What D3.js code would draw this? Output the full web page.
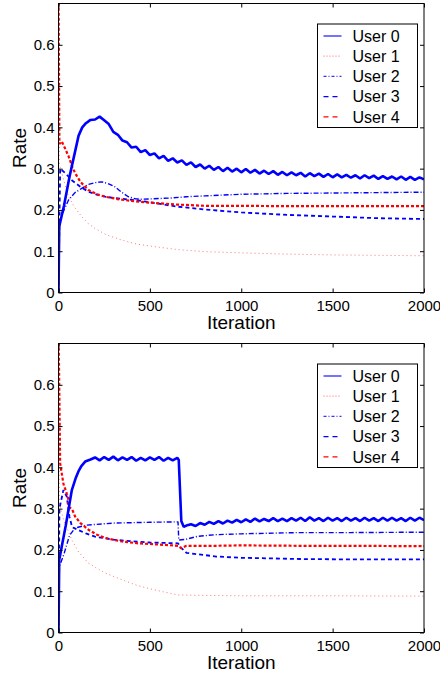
<!DOCTYPE html>
<html>
<head>
<meta charset="utf-8">
<script src="https://cdn.jsdelivr.net/npm/d3@7/dist/d3.min.js"></script>
<style>
  body { margin: 0; background: #fff; }
  svg { display: block; font-family: "Liberation Sans", Arial, Helvetica, sans-serif; }
</style>
</head>
<body>
<div id="chart"></div>
<script>
// ---- data (iteration, rate) ----
var users = ['User 0', 'User 1', 'User 2', 'User 3', 'User 4'];
var xTicks = [0, 500, 1000, 1500, 2000];
var yTicks = [0, 0.1, 0.2, 0.3, 0.4, 0.5, 0.6];

var topUser0 = [[0,0],[4,0.16],[30,0.21],[60,0.28],[90,0.34],[110,0.38],[130,0.40],[150,0.41],[175,0.418],
  [200,0.419],[225,0.426],[250,0.417],[275,0.408],[300,0.389],[325,0.382],[350,0.368],[375,0.364],[400,0.351],
  [425,0.353],[450,0.340],[475,0.345],[500,0.333],[525,0.337],[550,0.325],[575,0.331],[600,0.319],[625,0.325],
  [650,0.315],[675,0.320],[700,0.309],[725,0.315],[750,0.304],[775,0.310],[800,0.300],[825,0.307],[850,0.297],
  [875,0.304],[900,0.294],[925,0.302],[950,0.293],[975,0.300],[1000,0.291],[1025,0.299],[1050,0.290],[1075,0.297],
  [1100,0.288],[1125,0.295],[1150,0.287],[1175,0.294],[1200,0.285],[1225,0.292],[1250,0.284],[1275,0.291],
  [1300,0.284],[1325,0.290],[1350,0.281],[1375,0.289],[1400,0.282],[1425,0.288],[1450,0.280],[1475,0.287],
  [1500,0.279],[1525,0.286],[1550,0.279],[1575,0.285],[1600,0.278],[1625,0.284],[1650,0.276],[1675,0.284],
  [1700,0.277],[1725,0.283],[1750,0.275],[1775,0.282],[1800,0.275],[1825,0.281],[1850,0.274],[1875,0.281],
  [1900,0.273],[1925,0.280],[1950,0.273],[1975,0.279],[2000,0.274]];
var topUser1 = [[0,0.75],[5,0.31],[30,0.27],[55,0.232],[90,0.205],[127,0.184],[160,0.168],[200,0.155],[260,0.14],
  [346,0.127],[430,0.117],[527,0.111],[650,0.104],[800,0.099],[1000,0.096],[1250,0.093],[1500,0.091],[1750,0.09],[2000,0.089]];
var topUser2 = [[0,0],[4,0.168],[30,0.2],[55,0.224],[90,0.242],[127,0.252],[164,0.262],[200,0.266],[236,0.268],
  [270,0.264],[309,0.256],[345,0.243],[382,0.232],[420,0.227],[455,0.226],[520,0.227],[618,0.229],[700,0.232],
  [800,0.234],[1000,0.238],[1250,0.24],[1500,0.241],[1750,0.242],[2000,0.243]];
var topUser3 = [[0,0],[9,0.30],[40,0.288],[73,0.272],[120,0.256],[164,0.244],[210,0.237],[255,0.232],[340,0.227],
  [436,0.223],[550,0.215],[650,0.208],[800,0.201],[1000,0.194],[1250,0.188],[1500,0.184],[1750,0.18],[2000,0.178]];
var topUser4 = [[0,0.75],[5,0.36],[18,0.366],[35,0.35],[55,0.33],[75,0.305],[91,0.289],[120,0.268],[164,0.248],
  [210,0.238],[255,0.232],[340,0.225],[436,0.22],[550,0.216],[650,0.213],[800,0.21],[1000,0.21],[1250,0.209],
  [1500,0.209],[1750,0.209],[2000,0.209]];

var botUser0 = [[0,0],[4,0.176],[40,0.26],[73,0.345],[95,0.375],[109,0.39],[125,0.403],[146,0.414],[175,0.419],
  [200,0.424],[225,0.417],[250,0.425],[275,0.418],[300,0.426],[325,0.417],[350,0.424],[375,0.418],[400,0.425],
  [425,0.416],[450,0.423],[475,0.417],[500,0.424],[525,0.418],[550,0.425],[575,0.416],[600,0.423],[625,0.417],
  [650,0.423],[658,0.418],[672,0.27],[685,0.256],[700,0.259],[725,0.262],[750,0.258],[775,0.265],[800,0.261],
  [825,0.268],[850,0.263],[875,0.27],[900,0.264],[925,0.271],[950,0.266],[975,0.273],[1000,0.267],[1025,0.274],
  [1050,0.268],[1075,0.276],[1100,0.269],[1125,0.275],[1150,0.27],[1175,0.277],[1200,0.27],[1225,0.276],
  [1250,0.27],[1275,0.277],[1300,0.271],[1325,0.278],[1350,0.27],[1375,0.279],[1400,0.271],[1425,0.277],
  [1450,0.27],[1475,0.278],[1500,0.271],[1525,0.277],[1550,0.27],[1575,0.278],[1600,0.271],[1625,0.277],
  [1650,0.27],[1675,0.278],[1700,0.271],[1725,0.277],[1750,0.27],[1775,0.278],[1800,0.271],[1825,0.278],
  [1850,0.271],[1875,0.277],[1900,0.27],[1925,0.278],[1950,0.271],[1975,0.278],[2000,0.272]];
var botUser1 = [[0,0.75],[5,0.31],[30,0.27],[73,0.224],[110,0.195],[164,0.168],[250,0.145],[346,0.128],[430,0.114],
  [527,0.103],[600,0.096],[654,0.091],[750,0.09],[1000,0.089],[1500,0.089],[2000,0.088]];
var botUser2 = [[0,0],[5,0.16],[30,0.19],[60,0.235],[91,0.253],[150,0.26],[300,0.265],[500,0.267],[654,0.268],
  [658,0.224],[700,0.226],[760,0.233],[864,0.237],[1000,0.239],[1318,0.242],[1600,0.242],[2000,0.243]];
var botUser3 = [[0,0],[5,0.30],[27,0.345],[45,0.33],[60,0.28],[75,0.255],[100,0.25],[150,0.24],[200,0.232],
  [300,0.225],[400,0.221],[500,0.218],[654,0.216],[665,0.208],[700,0.193],[864,0.184],[1000,0.181],[1318,0.178],
  [1600,0.177],[2000,0.177]];
var botUser4 = [[0,0.75],[9,0.41],[27,0.36],[45,0.337],[52,0.33],[55,0.305],[75,0.298],[91,0.281],[120,0.265],
  [164,0.249],[210,0.237],[255,0.229],[340,0.221],[436,0.216],[550,0.213],[654,0.21],[672,0.204],[700,0.21],
  [864,0.21],[1000,0.211],[1318,0.21],[1600,0.21],[2000,0.209]];

// ---- styles ----
var userStyles = [
  {color: '#0000ff', width: 2.6, dash: null, opacity: 1, legendOpacity: 0.55},
  {color: '#ff0000', width: 1, dash: '1,3', opacity: 0.55, legendOpacity: 0.5},
  {color: '#0000ff', width: 1.4, dash: '5,2,1,2', opacity: 1, legendOpacity: 0.8},
  {color: '#0000ff', width: 1.8, dash: '4,3', opacity: 1, legendOpacity: 1},
  {color: '#ff0000', width: 2.2, dash: '3,2', opacity: 1, legendOpacity: 1}
];

var W = 440, H = 677;
var svg = d3.select('#chart').append('svg').attr('width', W).attr('height', H);

function drawPanel(top, series, id) {
  var left = 58.5, w = 365.5, h = 289;
  var x = d3.scaleLinear().domain([0, 2000]).range([0, w]);
  var y = d3.scaleLinear().domain([0, 0.7]).range([h, 0]);

  var g = svg.append('g').attr('transform', 'translate(' + left + ',' + top + ')');

  g.append('clipPath').attr('id', 'clip' + id)
    .append('rect').attr('width', w).attr('height', h);

  var line = d3.line()
    .x(function(d) { return x(d[0]); })
    .y(function(d) { return y(d[1]); });

  var lines = g.append('g').attr('clip-path', 'url(#clip' + id + ')');
  // draw back to front so User 0 ends on top like the reference
  [1, 3, 2, 4, 0].forEach(function(i) {
    var s = userStyles[i];
    lines.append('path')
      .datum(series[i])
      .attr('d', line)
      .attr('fill', 'none')
      .attr('stroke', s.color)
      .attr('stroke-width', s.width)
      .attr('stroke-opacity', s.opacity)
      .attr('stroke-linejoin', 'bevel')
      .attr('stroke-dasharray', s.dash);
  });

  // axes, ticks pointing inward on all four sides
  var fmt = function(d) { return d === 0 ? '0' : d3.format('.1f')(d); };
  g.append('g').attr('transform', 'translate(0,' + h + ')')
    .call(d3.axisBottom(x).tickValues(xTicks).tickFormat(d3.format('d'))
      .tickSizeInner(-4).tickSizeOuter(0).tickPadding(7.5));
  g.append('g')
    .call(d3.axisLeft(y).tickValues(yTicks).tickFormat(fmt).tickSizeInner(-4).tickSizeOuter(0).tickPadding(4));
  g.append('g').attr('transform', 'translate(' + w + ',0)')
    .call(d3.axisRight(y).tickValues(yTicks).tickFormat('').tickSizeInner(-4).tickSizeOuter(0));
  g.append('g')
    .call(d3.axisTop(x).tickValues(xTicks).tickFormat('').tickSizeInner(-4).tickSizeOuter(0));

  g.selectAll('.domain').remove();
  g.selectAll('.tick line').attr('stroke', '#000');
  g.selectAll('.tick text').attr('font-size', 15).attr('fill', '#000')
    .attr('font-family', '"Liberation Sans", Arial, Helvetica, sans-serif');

  g.append('rect').attr('width', w).attr('height', h)
    .attr('fill', 'none').attr('stroke', '#000').attr('stroke-width', 1);

  // axis labels
  svg.append('text')
    .attr('transform', 'translate(25.5,' + (top + h / 2) + ') rotate(-90)')
    .attr('text-anchor', 'middle').attr('font-size', 19).text('Rate');
  svg.append('text')
    .attr('x', left + w / 2).attr('y', top + h + 36)
    .attr('text-anchor', 'middle').attr('font-size', 19).text('Iteration');

  // legend
  var lg = svg.append('g').attr('transform', 'translate(317.5,' + (top + 20.5) + ')');
  lg.append('rect').attr('width', 100).attr('height', 103.5)
    .attr('fill', '#fff').attr('stroke', '#000').attr('stroke-width', 1);
  users.forEach(function(name, i) {
    var s = userStyles[i], cy = 12 + i * 20.2;
    lg.append('line')
      .attr('x1', 6).attr('x2', 24).attr('y1', cy).attr('y2', cy)
      .attr('stroke', s.color).attr('stroke-width', i === 0 ? 2 : 1.2)
      .attr('stroke-opacity', s.legendOpacity)
      .attr('stroke-dasharray', i === 0 ? null : (i === 1 ? '1,2' : (i === 2 ? '3,2,1,2' : '5,4')));
    lg.append('text')
      .attr('x', 35).attr('y', cy).attr('dy', '0.36em')
      .attr('font-size', 16).text(name);
  });
}

drawPanel(3.5, [topUser0, topUser1, topUser2, topUser3, topUser4], 'a');
drawPanel(343.5, [botUser0, botUser1, botUser2, botUser3, botUser4], 'b');
</script>
</body>
</html>
